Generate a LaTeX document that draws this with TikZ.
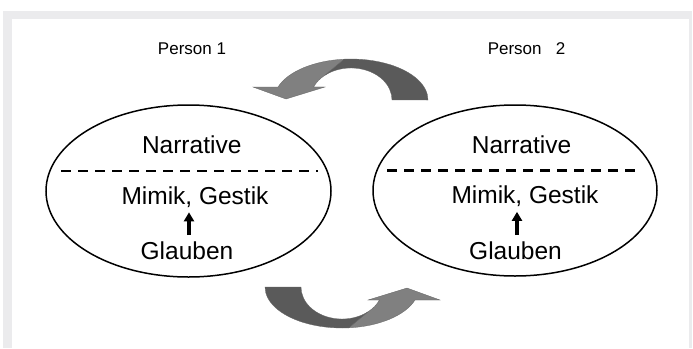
\documentclass[tikz,border=0pt]{standalone}
\usepackage{fontspec}
\setmainfont{Liberation Sans}
\usetikzlibrary{shapes.geometric, arrows.meta}

\definecolor{rahmengrau}{RGB}{235,235,237}
\definecolor{hellgrau}{RGB}{128,128,128}
\definecolor{dunkelgrau}{RGB}{90,90,90}

\tikzset{
  kreis/.style={draw, ellipse, line width=1.5pt, minimum width=285pt, minimum height=172pt},
  gross/.style={font=\fontsize{24.5}{29}\selectfont, inner sep=0pt, anchor=base},
  klein/.style={font=\fontsize{17}{20}\selectfont, inner sep=0pt, anchor=base},
  trenn/.style={line width=2.2pt, dash pattern=on 10pt off 7pt},
  hoch/.style={line width=3.2pt, -{Triangle[width=10pt,length=9pt]}, shorten <=6pt, shorten >=5pt},
  pfeilrand/.style={draw=black!60, line width=0.3pt}
}

% gebogener Pfeil, oben; unten wird er gedreht
\newcommand{\bogenpfeil}{%
  \filldraw[hellgrau, pfeilrand] (278,87) arc[start angle=198.5, end angle=265, x radius=77, y radius=41]
    -- (325.2,75.1) arc[start angle=231, end angle=204, x radius=41, y radius=32]
    -- (325,87) -- (286,99) -- (253,87) -- cycle;
  \filldraw[dunkelgrau, pfeilrand] (428,100) arc[start angle=360, end angle=265, x radius=77, y radius=41]
    -- (325.2,75.1) arc[start angle=231, end angle=360, x radius=41, y radius=32] -- cycle;
}

\begin{document}
\begin{tikzpicture}[x=1pt,y=-1pt]
\useasboundingbox (0,0) rectangle (693,348);
\fill[rahmengrau] (3,11) rectangle (692,348);
\fill[white] (12,19) rectangle (689,348);

% Personen
\node[kreis] (p1) at (188.5,191) {};
\node[kreis, minimum width=284pt, minimum height=171pt] (p2) at (515,190.5) {};
\node[klein] (t1) at (192,54) {Person 1};
\node[klein] (t2) at (526.5,54) {Person\ \ \ 2};

% linke Seite
\node[gross] (n1) at (191.7,153.3) {Narrative};
\node[gross] (m1) at (195,204) {Mimik, Gestik};
\node[gross] (g1) at (187,259) {Glauben};
\draw[trenn] ([shift={(16,-20)}]p1.west) -- ([shift={(-14,-20)}]p1.east);
\draw[hoch] ([xshift=2pt]g1.north) -- ([xshift=2pt]g1.north |- m1.south);

% rechte Seite
\node[gross] (n2) at (521.5,153) {Narrative};
\node[gross] (m2) at (525,203.5) {Mimik, Gestik};
\node[gross] (g2) at (515.5,259) {Glauben};
\draw[trenn] ([shift={(15,-20)}]p2.west) -- ([shift={(-21,-20)}]p2.east);
\draw[hoch] ([xshift=1.5pt]g2.north) -- ([xshift=1.5pt]g2.north |- m2.south);

% Austausch
\bogenpfeil
\begin{scope}[rotate around={180:(346.5,193.5)}]
\bogenpfeil
\end{scope}
\end{tikzpicture}
\end{document}
